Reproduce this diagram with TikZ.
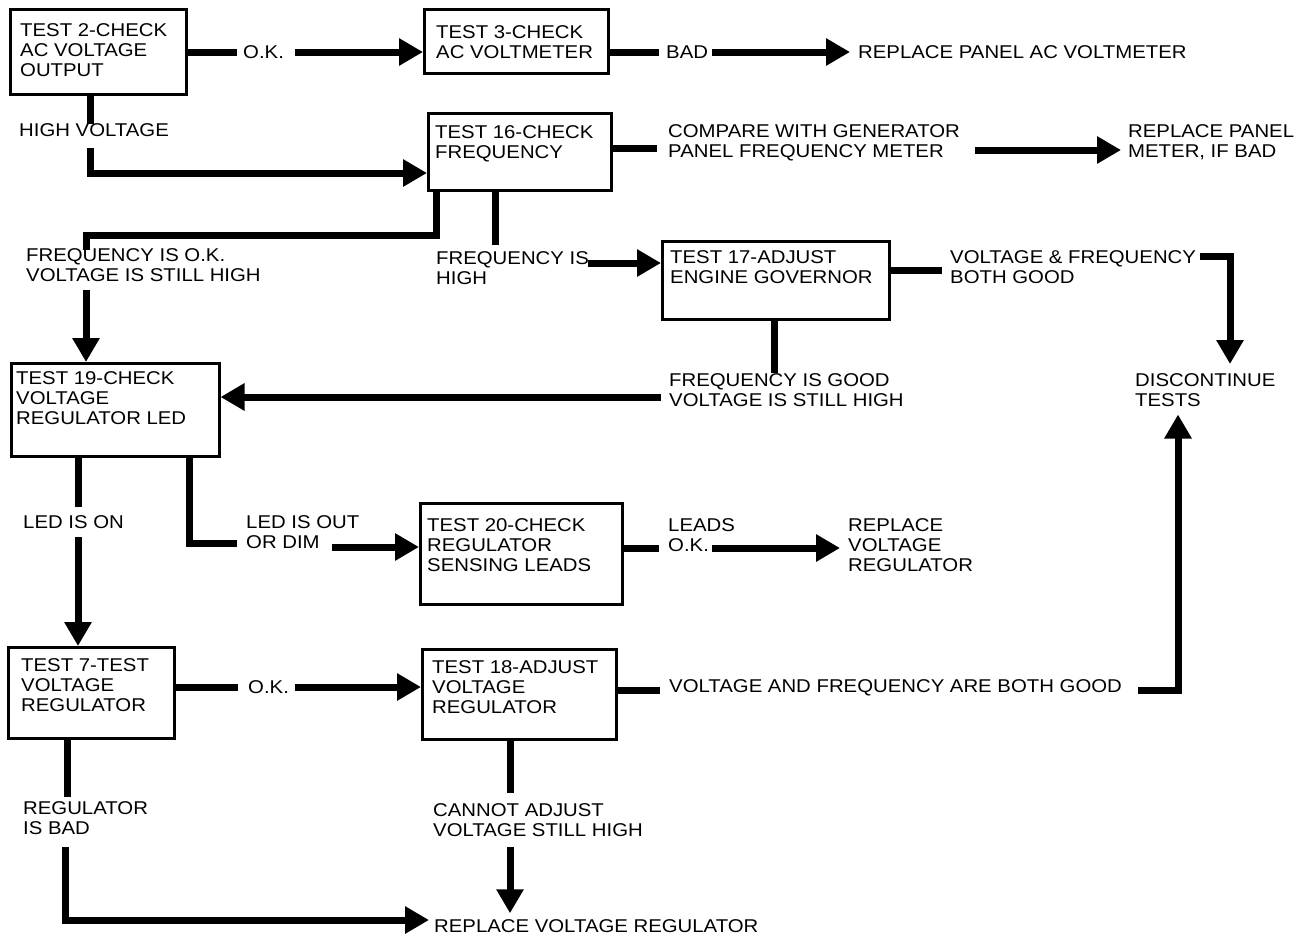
\documentclass[tikz,border=0pt]{standalone}
\usepackage{fontspec}
\setmainfont{Liberation Sans}[FakeStretch=1.1]
\usetikzlibrary{arrows.meta}
\begin{document}
\begin{tikzpicture}[x=1pt,y=-1pt,
  box/.style={draw, line width=2.5pt, inner sep=0pt, anchor=north west},
  lbl/.style={inner sep=0pt, anchor=north west, align=left, font=\fontsize{18.5}{20}\selectfont},
  ln/.style={line width=7pt, line join=miter},
  ar/.style={ln, -{Triangle[length=24pt,width=26pt]}},
]
\useasboundingbox (0,0) rectangle (1316,946);

% ---------- boxes ----------
\node[box, minimum width=176pt, minimum height=85pt]  (b2)  at (9,8)    {};
\node[box, minimum width=184pt, minimum height=64pt]  (b3)  at (423,8)  {};
\node[box, minimum width=183pt, minimum height=77pt]  (b16) at (427,112) {};
\node[box, minimum width=227pt, minimum height=78pt]  (b17) at (661,240) {};
\node[box, minimum width=208pt, minimum height=93pt]  (b19) at (10,362) {};
\node[box, minimum width=202pt, minimum height=101pt] (b20) at (419,502) {};
\node[box, minimum width=166pt, minimum height=91pt]  (b7)  at (7,646)  {};
\node[box, minimum width=194pt, minimum height=90pt]  (b18) at (421,648) {};

% ---------- box texts ----------
\node[lbl] (b2t)  at (20,23)   {TEST 2-CHECK\\AC VOLTAGE\\OUTPUT};
\node[lbl] (b3t)  at (436,25)  {TEST 3-CHECK\\AC VOLTMETER};
\node[lbl] (b16t) at (435,125) {TEST 16-CHECK\\FREQUENCY};
\node[lbl] (b17t) at (670,250) {TEST 17-ADJUST\\ENGINE GOVERNOR};
\node[lbl] (b19t) at (16,371)  {TEST 19-CHECK\\VOLTAGE\\REGULATOR LED};
\node[lbl] (b20t) at (427,518) {TEST 20-CHECK\\REGULATOR\\SENSING LEADS};
\node[lbl] (b7t)  at (21,658)  {TEST 7-TEST\\VOLTAGE\\REGULATOR};
\node[lbl] (b18t) at (432,660) {TEST 18-ADJUST\\VOLTAGE\\REGULATOR};

% ---------- labels / outcome texts ----------
\node[lbl, anchor=west] (okA)   at (243,52)  {O.K.};
\node[lbl, anchor=west] (bad)   at (666,52)  {BAD};
\node[lbl, anchor=west] (rpav)  at (858,52)  {REPLACE PANEL AC VOLTMETER};
\node[lbl, anchor=west] (hv)    at (19,130)  {HIGH VOLTAGE};
\node[lbl] (cmp)   at (668,124)  {COMPARE WITH GENERATOR\\PANEL FREQUENCY METER};
\node[lbl] (rpm)   at (1128,124) {REPLACE PANEL\\METER, IF BAD};
\node[lbl] (fok)   at (26,248)   {FREQUENCY IS O.K.\\VOLTAGE IS STILL HIGH};
\node[lbl] (fhi)   at (436,251)  {FREQUENCY IS\\HIGH};
\node[lbl] (vfb)   at (950,250)  {VOLTAGE \& FREQUENCY\\BOTH GOOD};
\node[lbl] (disc)  at (1135,373) {DISCONTINUE\\TESTS};
\node[lbl] (fgood) at (669,373)  {FREQUENCY IS GOOD\\VOLTAGE IS STILL HIGH};
\node[lbl, anchor=west] (ledon) at (23,522) {LED IS ON};
\node[lbl] (ledout) at (246,515) {LED IS OUT\\OR DIM};
\node[lbl] (leads)  at (668,518) {LEADS\\O.K.};
\node[lbl] (rvr1)   at (848,518) {REPLACE\\VOLTAGE\\REGULATOR};
\node[lbl, anchor=west] (okB)   at (248,687) {O.K.};
\node[lbl, anchor=west] (vgood) at (669,688) {VOLTAGE AND FREQUENCY ARE BOTH GOOD};
\node[lbl] (regbad) at (23,801)  {REGULATOR\\IS BAD};
\node[lbl] (cannot) at (433,803) {CANNOT ADJUST\\VOLTAGE STILL HIGH};
\node[lbl, anchor=west] (rvr2) at (434,926) {REPLACE VOLTAGE REGULATOR};

% ---------- connector coordinates ----------
\coordinate (r1a) at (237,52);
\coordinate (r1b) at (295,52);
\coordinate (r1c) at (659,52);
\coordinate (r1d) at (712,52);
\coordinate (hvA) at (90,124);
\coordinate (hvB) at (90,148);
\coordinate (hvC) at (90,173);
\coordinate (cmpA) at (657,148);
\coordinate (cmpB) at (975,150);
\coordinate (fa) at (436,235);
\coordinate (fb) at (86,235);
\coordinate (fc) at (86,250);
\coordinate (fd) at (86,290);
\coordinate (ga) at (495,245);
\coordinate (gb) at (588,263);
\coordinate (va) at (942,270);
\coordinate (vb) at (1200,256);
\coordinate (vc) at (1230,256);
\coordinate (fga) at (774,373);
\coordinate (fgb) at (661,397);
\coordinate (la) at (78,507);
\coordinate (lb) at (78,537);
\coordinate (lc) at (189,543);
\coordinate (ld) at (237,543);
\coordinate (le) at (332,547);
\coordinate (lf) at (659,548);
\coordinate (lg) at (712,548);
\coordinate (oa) at (238,687);
\coordinate (ob) at (295,687);
\coordinate (vga) at (660,690);
\coordinate (vgb) at (1138,690);
\coordinate (vgc) at (1178,690);
\coordinate (ra) at (67,797);
\coordinate (rb) at (65,847);
\coordinate (rc) at (65,920);
\coordinate (ca) at (510,793);
\coordinate (cb) at (510,847);

% ---------- connectors ----------
% row 1
\draw[ln] (b2.east |- r1a) -- (r1a);
\draw[ar] (r1b) -- (b3.west |- r1b);
\draw[ln] (b3.east |- r1c) -- (r1c);
\draw[ar, shorten >=8pt] (r1d) -- (rpav.west);
% high voltage
\draw[ln] (b2.south -| hvA) -- (hvA);
\draw[ar] (hvB) -- (hvC) -- (b16.west |- hvC);
% frequency compare
\draw[ln] (b16.east |- cmpA) -- (cmpA);
\draw[ar, shorten >=7pt] (cmpB) -- (rpm.west |- cmpB);
% frequency ok / high
\draw[ln] (b16.south -| fa) -- (fa) -- (fb) -- (fc);
\draw[ar] (fd) -- (b19.north -| fd);
\draw[ln] (b16.south -| ga) -- (ga);
\draw[ar] (gb) -- (b17.west |- gb);
% governor
\draw[ln] (b17.east |- va) -- (va);
\draw[ar, shorten >=9pt] (vb) -- (vc) -- (vc |- disc.north);
\draw[ln] (b17.south -| fga) -- (fga);
\draw[ar] (fgb) -- (b19.east |- fgb);
% LED
\draw[ln] (b19.south -| la) -- (la);
\draw[ar] (lb) -- (b7.north -| lb);
\draw[ln] (b19.south -| lc) -- (lc) -- (ld);
\draw[ar] (le) -- (b20.west |- le);
\draw[ln] (b20.east |- lf) -- (lf);
\draw[ar, shorten >=8pt] (lg) -- (rvr1.west |- lg);
% regulator
\draw[ln] (b7.east |- oa) -- (oa);
\draw[ar] (ob) -- (b18.west |- ob);
\draw[ln] (b18.east |- vga) -- (vga);
\draw[ar, shorten >=8pt] (vgb) -- (vgc) -- (vgc |- disc.south);
\draw[ln] (b7.south -| ra) -- (ra);
\draw[ar, shorten >=5pt] (rb) -- (rc) -- (rvr2.west |- rc);
\draw[ln] (b18.south -| ca) -- (ca);
\draw[ar, shorten >=6pt] (cb) -- (cb |- rvr2.north);
\end{tikzpicture}
\end{document}
